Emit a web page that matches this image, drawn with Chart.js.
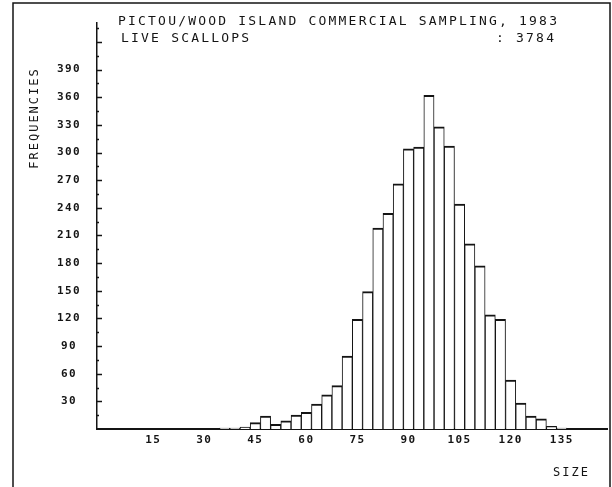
<!DOCTYPE html>
<html>
<head>
<meta charset="utf-8">
<script src="https://cdn.jsdelivr.net/npm/chart.js@4.4.0/dist/chart.umd.min.js"></script>
<style>
  html, body { margin: 0; padding: 0; background: #fff; }
  #wrap { width: 612px; height: 487px; }
</style>
</head>
<body>
<div id="wrap"><canvas id="histo" width="612" height="487"></canvas></div>
<script>
// shell size classes (3 mm bins, centre value) and counts
const sizeBins = [36, 39, 42, 45, 48, 51, 54, 57, 60, 63, 66, 69, 72, 75, 78, 81, 84, 87,
  90, 93, 96, 99, 102, 105, 108, 111, 114, 117, 120, 123, 126, 129, 132, 135];
const frequencies = [1, 1, 2, 7, 14, 5, 9, 15, 18, 27, 37, 47, 79, 119, 149, 218, 234, 266,
  304, 306, 362, 328, 307, 244, 201, 177, 124, 119, 53, 28, 14, 11, 3, 1];
const xTickValues = [15, 30, 45, 60, 75, 90, 105, 120, 135];
const yTickValues = [30, 60, 90, 120, 150, 180, 210, 240, 270, 300, 330, 360, 390];

const titleLine = 'PICTOU/WOOD ISLAND COMMERCIAL SAMPLING, 1983';
const subtitleLeft = 'LIVE SCALLOPS';
const subtitleRight = ': 3784';
const yAxisLabel = 'FREQUENCIES';
const xAxisLabel = 'SIZE';

const ink = '#141414';
const mono = '"DejaVu Sans Mono", "Liberation Mono", monospace';

// plotter look: wide letters, frame, inward ticks on the y axis
const plotterDecor = {
  id: 'plotterDecor',
  beforeLayout(chart) { chart.ctx.letterSpacing = '1.4px'; },
  beforeDraw(chart) { chart.ctx.letterSpacing = '1.4px'; },
  afterDraw(chart) {
    const { ctx, chartArea: { left } } = chart;
    const yScale = chart.scales.y;
    ctx.save();
    ctx.strokeStyle = ink;
    ctx.fillStyle = ink;

    // frame round the sheet
    ctx.lineWidth = 1.5;
    ctx.beginPath();
    ctx.moveTo(13, 487);
    ctx.lineTo(13, 3);
    ctx.lineTo(610, 3);
    ctx.lineTo(610, 487);
    ctx.stroke();

    // small ticks pointing into the plot
    for (let v = 15; v <= yScale.max; v += 15) {
      const py = Math.round(yScale.getPixelForValue(v)) + 0.5;
      ctx.beginPath();
      ctx.moveTo(left, py);
      ctx.lineTo(left + (v % 30 === 0 ? 5 : 2), py);
      ctx.stroke();
    }

    // header
    ctx.font = '13px ' + mono;
    ctx.letterSpacing = '2.2px';
    ctx.textBaseline = 'middle';
    ctx.textAlign = 'left';
    ctx.fillText(titleLine, 118, 22);
    ctx.fillText(subtitleLeft, 121, 39);
    ctx.fillText(subtitleRight, 496, 39);

    // axis titles
    ctx.font = '12px ' + mono;
    ctx.letterSpacing = '2px';
    ctx.save();
    ctx.translate(35, 118);
    ctx.rotate(-Math.PI / 2);
    ctx.textAlign = 'center';
    ctx.fillText(yAxisLabel, 0, 0);
    ctx.restore();
    ctx.fillText(xAxisLabel, 553, 473);
    ctx.restore();
  }
};

const tickFont = { family: mono, size: 11, weight: 'bold' };

new Chart(document.getElementById('histo'), {
  type: 'bar',
  data: {
    datasets: [{
      data: sizeBins.map((x, i) => ({ x: x, y: frequencies[i] })),
      backgroundColor: '#ffffff',
      borderColor: ink,
      borderWidth: { top: 2, left: 1, right: 1, bottom: 0 },
      barPercentage: 1,
      categoryPercentage: 1
    }]
  },
  options: {
    responsive: false,
    animation: false,
    layout: { padding: { top: 16, right: 5, bottom: 0, left: 0 } },
    plugins: {
      legend: { display: false },
      tooltip: { enabled: false }
    },
    scales: {
      x: {
        type: 'linear',
        offset: false,
        min: -1.5,
        max: 148.3,
        grid: { display: false, drawTicks: false, offset: false },
        border: { display: true, color: ink, width: 2 },
        ticks: {
          autoSkip: false,
          maxRotation: 0,
          padding: 5,
          color: ink,
          font: tickFont,
          callback: v => String(v)
        },
        afterBuildTicks: s => { s.ticks = xTickValues.map(v => ({ value: v })); },
        afterFit: s => { s.height = 58; }
      },
      y: {
        min: 0,
        max: 441,
        grid: { display: false, drawTicks: false },
        border: { display: true, color: ink, width: 1.5 },
        ticks: {
          autoSkip: false,
          padding: 16,
          crossAlign: 'center',
          color: ink,
          font: tickFont,
          callback: v => String(v)
        },
        afterBuildTicks: s => { s.ticks = yTickValues.map(v => ({ value: v })); },
        afterFit: s => { s.width = 97; }
      }
    }
  },
  plugins: [plotterDecor]
});
</script>
</body>
</html>
